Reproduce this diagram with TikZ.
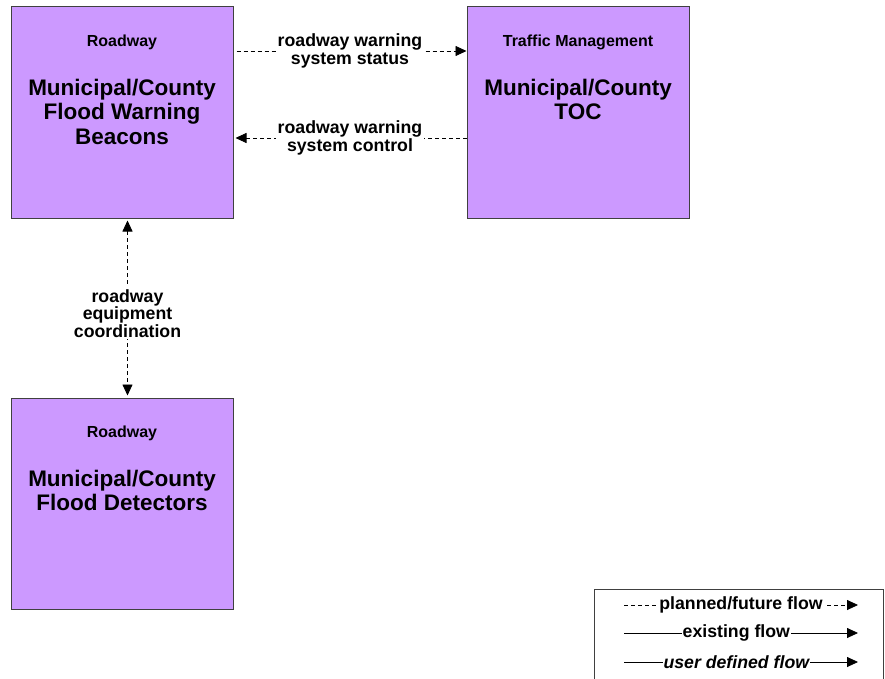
\documentclass[tikz,border=0pt]{standalone}
\usepackage{fontspec}
\setmainfont{Liberation Sans}
\usepackage{xcolor}
\usetikzlibrary{positioning,arrows.meta}
\definecolor{sysfill}{HTML}{CC99FF}

\begin{document}
\begin{tikzpicture}[x=1pt, y=-1pt,
  sysbox/.style={rectangle, draw=black!75, line width=1pt, fill=sysfill, minimum width=222pt, minimum height=211pt, inner sep=0pt},
  cls/.style={anchor=north, inner sep=0pt, font=\bfseries\fontsize{16}{18}\selectfont},
  ttl/.style={anchor=north, inner sep=0pt, align=center, font=\bfseries\fontsize{22.5}{24.5}\selectfont},
  flowlbl/.style={fill=white, inner sep=2pt, align=center, font=\bfseries\fontsize{17.7}{17.5}\selectfont},
  legtxt/.style={fill=white, inner sep=1pt, font=\bfseries\fontsize{17.7}{17.7}\selectfont},
  planned/.style={dash pattern=on 4pt off 3pt, line width=0.8pt, -{Triangle[length=11pt,width=10pt]}},
  existing/.style={line width=0.8pt, -{Triangle[length=11pt,width=10pt]}}
]
\useasboundingbox (0,0) rectangle (885,679);

% systems
\node[sysbox] (beacons) at (122,112.5) {};
\node[sysbox, right=233pt of beacons] (toc) {};
\node[sysbox, below=179pt of beacons] (detectors) {};

\node[cls] (beacons-cls) at ([yshift=-28pt]beacons.north) {Roadway};
\node[ttl] (beacons-ttl) at ([yshift=-72pt]beacons.north) {Municipal/County\\Flood Warning\\Beacons};
\node[cls] (toc-cls) at ([yshift=-28pt]toc.north) {Traffic Management};
\node[ttl] (toc-ttl) at ([yshift=-72pt]toc.north) {Municipal/County\\TOC};
\node[cls] (detectors-cls) at ([yshift=-28pt]detectors.north) {Roadway};
\node[ttl] (detectors-ttl) at ([yshift=-72pt]detectors.north) {Municipal/County\\Flood Detectors};

% flows
\draw[planned, shorten <=3pt] ([yshift=61.5pt]beacons.east) -- node[flowlbl]{roadway warning\\system status} ([yshift=61.5pt]toc.west);
\draw[planned, shorten >=2pt] ([yshift=-25.5pt]toc.west) -- node[flowlbl]{roadway warning\\system control} ([yshift=-25.5pt]beacons.east);
\draw[planned, {Triangle[length=11pt,width=10pt]}-{Triangle[length=11pt,width=10pt]}, shorten <=2pt, shorten >=2pt]
  ([xshift=5.5pt]beacons.south) -- node[flowlbl, pos=0.53]{roadway\\equipment\\coordination} ([xshift=5.5pt]detectors.north);

% legend
\node[rectangle, draw=black!75, line width=0.8pt, minimum width=289pt, minimum height=90pt, inner sep=0pt] (legend) at (739,634) {};
\coordinate (leg1a) at (624,605);
\coordinate (leg1b) at (858,605);
\coordinate (leg2a) at (624,633);
\coordinate (leg2b) at (858,633);
\coordinate (leg3a) at (624,662);
\coordinate (leg3b) at (858,662);
\draw[planned] (leg1a) -- node[legtxt]{planned/future flow} (leg1b);
\draw[existing] (leg2a) -- node[legtxt, pos=0.48]{existing flow} (leg2b);
\draw[existing] (leg3a) -- node[legtxt, pos=0.48]{\itshape user defined flow} (leg3b);
\end{tikzpicture}
\end{document}
